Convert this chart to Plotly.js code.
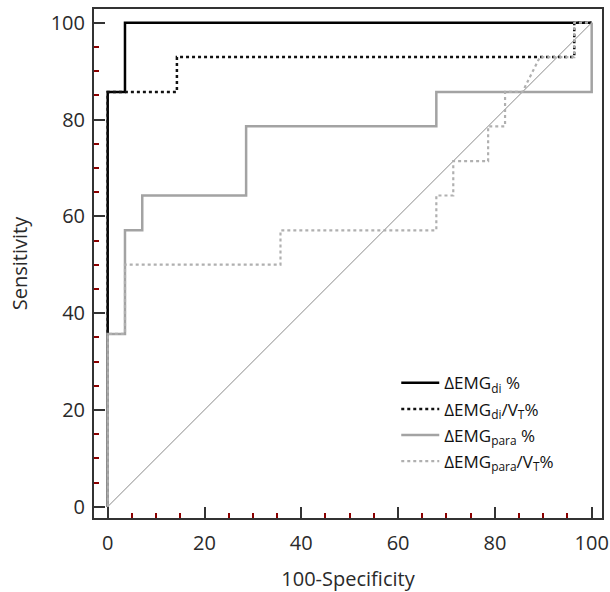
<!DOCTYPE html>
<html>
<head>
<meta charset="utf-8">
<script src="https://cdn.plot.ly/plotly-3.0.1.min.js"></script>
<style>html,body{margin:0;padding:0;background:#fff;}#chart{width:610px;height:592px;}</style>
</head>
<body>
<div id="chart"></div>
<script>
// 100-Specificity (x) and Sensitivity (y) step points for each ROC curve
const diX = [0, 0, 3.57, 3.57, 100];
const diY = [0, 85.7, 85.7, 100, 100];

const diVtX = [0, 0, 14.3, 14.3, 96.4, 96.4, 100];
const diVtY = [0, 85.7, 85.7, 92.9, 92.9, 100, 100];

const paraX = [0, 0, 3.57, 3.57, 7.14, 7.14, 28.6, 28.6, 67.9, 67.9, 100, 100];
const paraY = [0, 35.7, 35.7, 57.1, 57.1, 64.3, 64.3, 78.6, 78.6, 85.7, 85.7, 100];

const paraVtX = [0, 0, 3.57, 3.57, 35.7, 35.7, 67.9, 67.9, 71.4, 71.4, 78.6, 78.6, 82.1, 82.1, 85.7, 89.3, 96.4, 96.4, 100];
const paraVtY = [0, 35.7, 35.7, 50, 50, 57.1, 57.1, 64.3, 64.3, 71.4, 71.4, 78.6, 78.6, 85.7, 85.7, 92.9, 92.9, 100, 100];

const refX = [0, 100];
const refY = [0, 100];

const seriesNames = [
  "ΔEMG<sub>di</sub> %",
  "ΔEMG<sub>di</sub>/V<sub>T</sub>%",
  "ΔEMG<sub>para</sub> %",
  "ΔEMG<sub>para</sub>/V<sub>T</sub>%"
];
const tickVals = [0, 20, 40, 60, 80, 100];

const traces = [
  {x: refX, y: refY, mode: "lines", showlegend: false, hoverinfo: "skip",
   line: {color: "#8a8a8a", width: 1}},
  {x: diX, y: diY, mode: "lines", name: seriesNames[0], legendgroup: "a",
   line: {color: "#000000", width: 2.5}},
  {x: diVtX, y: diVtY, mode: "lines", name: seriesNames[1], legendgroup: "b",
   line: {color: "#111111", width: 2.5, dash: "dot"}},
  {x: paraX, y: paraY, mode: "lines", name: seriesNames[2], legendgroup: "c",
   line: {color: "#a3a3a3", width: 2.5}},
  {x: paraVtX, y: paraVtY, mode: "lines", name: seriesNames[3], legendgroup: "d",
   line: {color: "#b0b0b0", width: 2.2, dash: "dot"}}
];

const fam = "Open Sans, Noto Sans, sans-serif";

const axisCommon = {
  showgrid: false, zeroline: false,
  showline: true, linecolor: "#333333", linewidth: 2, mirror: true,
  ticks: "inside", ticklen: 11, tickwidth: 2, tickcolor: "#333333",
  tickvals: tickVals,
  tickfont: {family: fam, size: 20, color: "#2a2a2a"},
  minor: {dtick: 5, ticks: "inside", ticklen: 5, tickwidth: 2, tickcolor: "#8b0000", showgrid: false}
};

const layout = {
  width: 610, height: 592,
  margin: {l: 94, r: 8, t: 9, b: 74},
  paper_bgcolor: "#ffffff", plot_bgcolor: "#ffffff",
  font: {family: fam, color: "#222222"},
  xaxis: Object.assign({}, axisCommon, {
    range: [-2.83, 102.13],
    ticklabelstandoff: 6,
    title: {text: "100-Specificity", font: {family: fam, size: 20, color: "#2a2a2a"}, standoff: 17}
  }),
  yaxis: Object.assign({}, axisCommon, {
    range: [-2.33, 102.83],
    ticklabelstandoff: 3,
    title: {text: "Sensitivity", font: {family: fam, size: 20, color: "#2a2a2a"}, standoff: 18}
  }),
  legend: {
    x: 0.595, y: 0.30, xanchor: "left", yanchor: "top",
    bgcolor: "rgba(0,0,0,0)", borderwidth: 0,
    font: {family: fam, size: 17, color: "#111111"},
    tracegroupgap: 1,
    itemwidth: 38
  },
  showlegend: true
};

Plotly.newPlot("chart", traces, layout, {displayModeBar: false, staticPlot: true});
</script>
</body>
</html>
